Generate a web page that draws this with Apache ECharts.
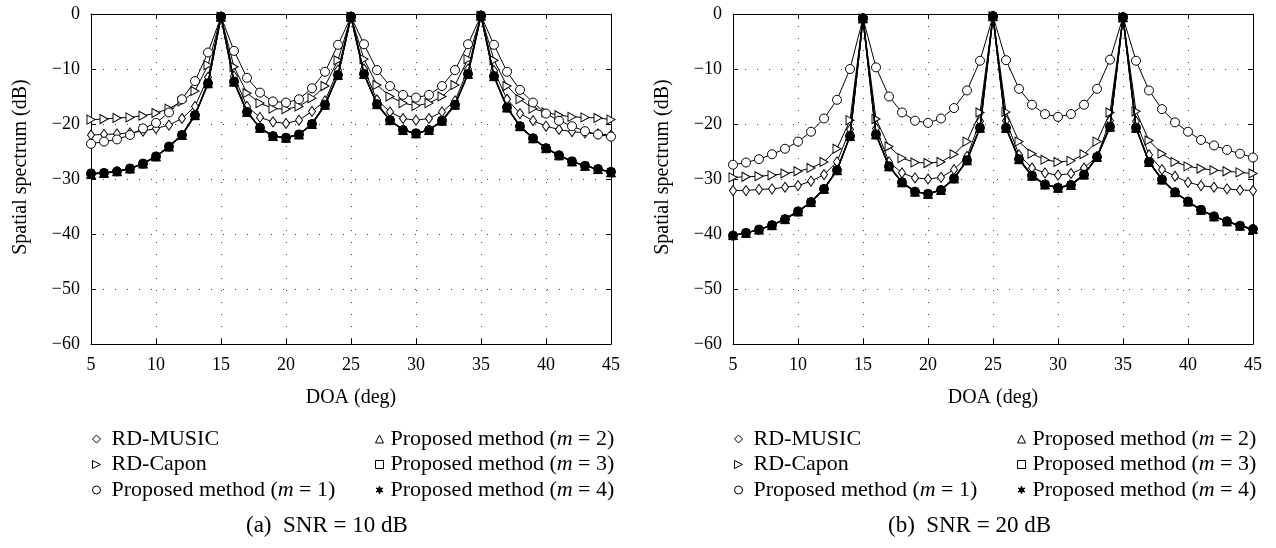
<!DOCTYPE html>
<html><head><meta charset="utf-8">
<script src="https://cdn.jsdelivr.net/npm/echarts@6/dist/echarts.min.js"></script>
<style>html,body{margin:0;padding:0;background:#fff}#c{width:1276px;height:548px}</style>
</head><body><div id="c"></div>
<script>
const doa = [5,6,7,8,9,10,11,12,13,14,15,16,17,18,19,20,21,22,23,24,25,26,27,28,29,30,31,32,33,34,35,36,37,38,39,40,41,42,43,44,45];
const xTicks = [5,10,15,20,25,30,35,40,45];
const yTicks = [0,-10,-20,-30,-40,-50,-60];
const seriesNames = ['RD-MUSIC','RD-Capon','Proposed method (m = 1)','Proposed method (m = 2)','Proposed method (m = 3)','Proposed method (m = 4)'];
const captions = ['(a)  SNR = 10 dB','(b)  SNR = 20 dB'];

// (a) SNR = 10 dB
const musicA = [-22.0,-21.9,-21.8,-21.6,-21.3,-20.8,-20.2,-19.0,-16.8,-11.5,-0.5,-11.3,-16.8,-18.8,-19.6,-19.9,-19.3,-17.7,-15.8,-10.2,-0.5,-10.0,-15.6,-17.8,-19.0,-19.3,-19.0,-17.8,-15.8,-10.0,-0.3,-10.3,-15.5,-18.1,-19.4,-20.4,-21.0,-21.4,-21.6,-21.8,-22.0];
const caponA = [-19.2,-19.1,-18.9,-18.8,-18.5,-18.0,-17.2,-15.9,-14.0,-9.3,-0.5,-9.6,-14.4,-16.2,-17.2,-17.3,-16.8,-15.3,-13.1,-8.4,-0.5,-8.2,-12.9,-15.0,-16.2,-16.7,-16.2,-15.0,-12.9,-8.2,-0.3,-8.4,-13.1,-15.5,-17.2,-17.9,-18.4,-18.7,-18.8,-18.9,-19.2];
const m1A = [-23.6,-23.2,-22.8,-22.0,-20.8,-19.8,-17.9,-15.5,-12.2,-7.0,-0.5,-6.7,-11.6,-14.3,-15.9,-16.1,-15.5,-13.5,-10.5,-5.6,-0.5,-5.5,-10.2,-13.1,-14.7,-15.2,-14.7,-13.1,-10.2,-5.5,-0.3,-5.6,-10.5,-13.8,-16.1,-18.1,-19.4,-20.4,-21.3,-21.9,-22.3];
const m2A = [-29.1,-28.9,-28.6,-28.1,-27.2,-25.9,-24.1,-22.0,-18.4,-12.6,-0.5,-12.3,-17.8,-20.7,-22.2,-22.5,-21.9,-20.0,-16.5,-11.1,-0.5,-10.9,-16.4,-19.3,-21.1,-21.7,-21.1,-19.4,-16.5,-10.9,-0.3,-11.3,-17.0,-20.4,-22.6,-24.4,-25.7,-26.8,-27.6,-28.2,-28.8];
const m3A = [-29.0,-28.9,-28.7,-28.1,-27.2,-25.9,-24.1,-22.0,-18.4,-12.6,-0.5,-12.3,-17.8,-20.7,-22.2,-22.5,-21.9,-20.0,-16.5,-11.1,-0.5,-10.9,-16.4,-19.3,-21.1,-21.7,-21.1,-19.4,-16.5,-10.9,-0.3,-11.3,-17.0,-20.4,-22.6,-24.4,-25.7,-26.8,-27.6,-28.2,-28.7];
const m4A = [-29.0,-28.9,-28.6,-28.1,-27.2,-25.9,-24.1,-22.0,-18.4,-12.6,-0.5,-12.3,-17.8,-20.7,-22.2,-22.5,-21.9,-20.0,-16.5,-11.1,-0.5,-10.9,-16.4,-19.3,-21.1,-21.7,-21.1,-19.4,-16.5,-10.9,-0.3,-11.3,-17.0,-20.4,-22.6,-24.4,-25.7,-26.8,-27.6,-28.2,-28.7];

// (b) SNR = 20 dB
const musicB = [-32.1,-32.1,-31.9,-31.8,-31.5,-31.2,-30.4,-29.2,-26.9,-21.0,-0.8,-20.8,-26.9,-28.9,-29.8,-30.0,-29.7,-28.3,-25.9,-19.5,-0.4,-19.4,-25.6,-28.0,-28.9,-29.3,-29.0,-28.0,-25.9,-19.4,-0.6,-19.5,-25.6,-28.3,-29.5,-30.6,-31.2,-31.5,-31.8,-32.0,-32.1];
const caponB = [-29.7,-29.6,-29.5,-29.3,-29.0,-28.6,-28.0,-26.9,-24.5,-19.3,-0.8,-19.1,-24.1,-26.2,-27.0,-27.1,-26.9,-25.5,-23.2,-17.9,-0.4,-17.8,-23.2,-25.4,-26.5,-26.9,-26.7,-25.5,-23.2,-17.9,-0.6,-17.7,-23.0,-25.4,-26.9,-27.7,-28.1,-28.4,-28.6,-28.8,-29.0];
const m1B = [-27.4,-27.0,-26.4,-25.5,-24.5,-23.2,-21.4,-19.0,-15.6,-10.0,-0.8,-9.7,-15.0,-17.9,-19.4,-19.8,-19.0,-17.1,-13.9,-8.5,-0.4,-8.4,-13.6,-16.5,-18.2,-18.7,-18.2,-16.5,-13.6,-8.3,-0.6,-8.5,-13.9,-17.3,-19.7,-21.4,-22.9,-23.9,-24.7,-25.4,-26.1];
const m2B = [-40.2,-39.8,-39.2,-38.4,-37.3,-35.9,-34.2,-31.8,-28.4,-22.2,-0.8,-21.9,-27.7,-30.6,-32.3,-32.7,-32.0,-29.9,-26.6,-20.7,-0.4,-20.7,-26.4,-29.4,-31.0,-31.6,-31.1,-29.2,-26.0,-20.5,-0.6,-20.7,-26.9,-30.1,-32.4,-34.1,-35.6,-36.8,-37.7,-38.5,-39.1];
const m3B = [-40.3,-39.8,-39.2,-38.4,-37.3,-35.9,-34.2,-31.8,-28.4,-22.2,-0.8,-21.9,-27.7,-30.6,-32.3,-32.7,-32.0,-29.9,-26.6,-20.7,-0.4,-20.7,-26.4,-29.4,-31.0,-31.6,-31.1,-29.2,-26.0,-20.5,-0.6,-20.7,-26.9,-30.1,-32.4,-34.1,-35.6,-36.8,-37.7,-38.5,-39.2];
const m4B = [-40.3,-39.8,-39.2,-38.4,-37.3,-35.9,-34.2,-31.8,-28.4,-22.2,-0.8,-21.9,-27.7,-30.6,-32.3,-32.7,-32.0,-29.9,-26.6,-20.7,-0.4,-20.7,-26.4,-29.4,-31.0,-31.6,-31.1,-29.2,-26.0,-20.5,-0.6,-20.7,-26.9,-30.1,-32.4,-34.1,-35.6,-36.8,-37.7,-38.5,-39.1];

const FONT = 'Liberation Serif';
const triRight = 'path://M0,0L10,5L0,10Z';
const star = 'path://M0,-10L2,-3.46L8.66,-5L4,0L8.66,5L2,3.46L0,10L-2,3.46L-8.66,5L-4,0L-8.66,-5L-2,-3.46Z';
const styles = [
  {symbol:'diamond', symbolSize:[7,10], fill:'#fff', lw:1},
  {symbol:triRight, symbolSize:[8,9], fill:'#fff', lw:1},
  {symbol:'circle', symbolSize:9, fill:'#fff', lw:1},
  {symbol:'triangle', symbolSize:9, fill:'#000', lw:1.4},
  {symbol:'rect', symbolSize:7, fill:'#000', lw:1.4},
  {symbol:'circle', symbolSize:9, fill:'#000', lw:1.4}
];
const legendIcons = ['diamond', triRight, 'circle', 'triangle', 'rect', star];

const grids = [
  {left:91, top:14, width:520, height:330},
  {left:733, top:14, width:520, height:330}
];
const fmtMinus = v => String(v).replace('-', '\u2212');

const xAxes = [], yAxes = [];
grids.forEach((g, i) => {
  xAxes.push({
    type:'value', gridIndex:i, min:5, max:45, interval:5, position:'bottom',
    axisLine:{onZero:false, lineStyle:{color:'#000', width:1}},
    axisTick:{inside:true, length:5, lineStyle:{color:'#000'}},
    axisLabel:{fontFamily:FONT, fontSize:18, color:'#000', margin:12},
    splitLine:{show:true, lineStyle:{color:'#444', type:[1,11], width:1}},
    name:'DOA (deg)', nameLocation:'middle', nameGap:44,
    nameTextStyle:{fontFamily:FONT, fontSize:20, color:'#000', verticalAlign:'top'}
  });
  xAxes.push({
    type:'value', gridIndex:i, min:5, max:45, interval:5, position:'top',
    axisLine:{onZero:false, lineStyle:{color:'#000', width:1}},
    axisTick:{inside:true, length:5, lineStyle:{color:'#000'}},
    axisLabel:{show:false}, splitLine:{show:false}
  });
  yAxes.push({
    type:'value', gridIndex:i, min:-60, max:0, interval:10, position:'left',
    axisLine:{onZero:false, lineStyle:{color:'#000', width:1}},
    axisTick:{inside:true, length:5, lineStyle:{color:'#000'}},
    axisLabel:{fontFamily:FONT, fontSize:18, color:'#000', margin:11, formatter:fmtMinus},
    splitLine:{show:true, lineStyle:{color:'#444', type:[1,11], width:1}},
    name:'Spatial spectrum (dB)', nameLocation:'middle', nameGap:60,
    nameTextStyle:{fontFamily:FONT, fontSize:20, color:'#000', padding:[0,0,0,24]}
  });
  yAxes.push({
    type:'value', gridIndex:i, min:-60, max:0, interval:10, position:'right',
    axisLine:{onZero:false, lineStyle:{color:'#000', width:1}},
    axisTick:{inside:true, length:5, lineStyle:{color:'#000'}},
    axisLabel:{show:false}, splitLine:{show:false}
  });
});

const dataSets = [[musicA, caponA, m1A, m2A, m3A, m4A],[musicB, caponB, m1B, m2B, m3B, m4B]];
const series = [];
dataSets.forEach((sets, gi) => {
  sets.forEach((vals, si) => {
    const st = styles[si];
    series.push({
      type:'line', name:seriesNames[si], xAxisIndex:gi*2, yAxisIndex:gi*2,
      data: doa.map((x, k) => [x, vals[k]]),
      symbol:st.symbol, symbolSize:st.symbolSize, showAllSymbol:true,
      lineStyle:{color:'#000', width:st.lw},
      itemStyle:{color:st.fill, borderColor:'#000', borderWidth:1},
      emphasis:{disabled:true}, animation:false, z:2+si
    });
  });
});

const rich = {
  n:{fontFamily:FONT, fontSize:22, color:'#000'},
  i:{fontFamily:FONT, fontSize:22, color:'#000', fontStyle:'italic'}
};
const legendFmt = name => {
  const m = name.match(/^(.*\()m( = \d\))$/);
  if (m) return '{n|' + m[1] + '}{i|m}{n|' + m[2] + '}';
  return '{n|' + name + '}';
};
const legendCols = [[0,1,2],[3,4,5]];
const legendX = [[92, 375],[734, 1017]];
const legendFill = ['#fff','#fff','#fff','#fff','#fff','#000'];
const legends = [];
[0,1].forEach(gi => {
  legendCols.forEach((col, ci) => {
    legends.push({
      orient:'vertical', left:legendX[gi][ci], top:428, padding:0, itemGap:3.5,
      itemWidth:8, itemHeight:8, selectedMode:false,
      itemStyle:{borderWidth:1, borderColor:'#000'},
      textStyle:{fontFamily:FONT, fontSize:22, color:'#000', padding:[0,0,0,ci===0?6:2], rich:rich},
      formatter:legendFmt,
      data: col.map(si => ({name:seriesNames[si], icon:legendIcons[si],
        itemStyle:{color:legendFill[si], borderColor:'#000', borderWidth:1}}))
    });
  });
});

const titles = captions.map((t, i) => ({
  text:t, left:[246, 888][i], top:514, padding:0,
  textStyle:{fontFamily:FONT, fontSize:23, fontWeight:'normal', color:'#000'}
}));

const chart = echarts.init(document.getElementById('c'), null, {renderer:'canvas'});
chart.setOption({
  animation:false, backgroundColor:'#fff',
  title:titles, grid:grids, xAxis:xAxes, yAxis:yAxes, legend:legends, series:series
});
</script></body></html>
